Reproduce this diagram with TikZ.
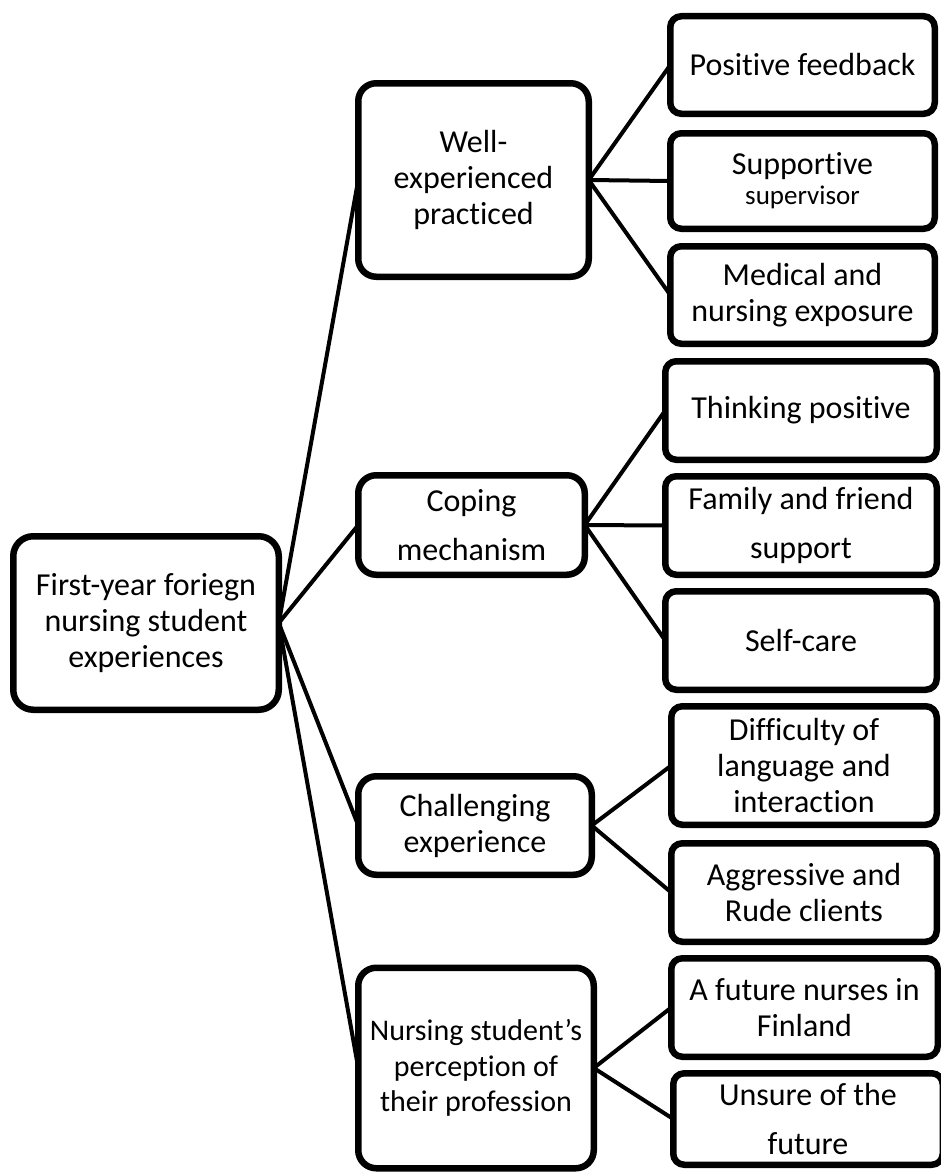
\documentclass[tikz,border=0pt]{standalone}
\usepackage{fontspec}
\setmainfont{Carlito}[RawFeature={-liga;-clig;-calt;-dlig}]
\usetikzlibrary{shadows}
\begin{document}
\begin{tikzpicture}[x=1pt,y=-1pt,
  box/.style={draw, line width=6.5pt, fill=white, align=center, inner sep=0pt, outer sep=0pt,
    drop shadow={shadow xshift=1.5pt, shadow yshift=-2.5pt, opacity=0.12, fill=black}},
  midbox/.style={box, rounded corners=18pt},
  leafbox/.style={box, rounded corners=11pt},
  txt/.style={font=\fontsize{32}{36}\selectfont},
  wide/.style={font=\fontsize{32}{49}\selectfont},
  small/.style={font=\fontsize{30}{35.5}\selectfont},
  link/.style={line width=4pt}]
\useasboundingbox (0,0) rectangle (941,1172);

\node[midbox, rounded corners=20pt, txt, minimum width=265.5pt, minimum height=173.5pt] (root) at (146,623)
  {First-year foriegn\\nursing student\\experiences};

\node[midbox, txt, minimum width=230.5pt, minimum height=193.5pt] (well) at (473.5,180)
  {Well-\\experienced\\practiced};
\node[midbox, wide, minimum width=226.5pt, minimum height=99.5pt] (cope) at (471.5,525)
  {Coping\\mechanism};
\node[midbox, txt, minimum width=233.5pt, minimum height=98.5pt] (chal) at (475,825.5)
  {Challenging\\experience};
\node[midbox, small, minimum width=235.5pt, minimum height=200.5pt] (nurs) at (476,1068)
  {Nursing student’s\\perception of\\their profession};

\node[leafbox, txt, minimum width=264.5pt, minimum height=97.5pt] (pf) at (802.5,65)
  {Positive feedback};
\node[leafbox, font=\fontsize{32}{30}\selectfont, minimum width=264.5pt, minimum height=95.5pt] (ss) at (802.5,181)
  {Supportive\\{\fontsize{27}{30}\selectfont supervisor}};
\node[leafbox, txt, minimum width=264.5pt, minimum height=97.5pt] (med) at (802.5,295)
  {Medical and\\nursing exposure};

\node[leafbox, txt, minimum width=271.5pt, minimum height=98.5pt] (tp) at (801,410.5)
  {Thinking positive};
\node[leafbox, wide, minimum width=271.5pt, minimum height=98.5pt] (fam) at (801,525.5)
  {Family and friend\\support};
\node[leafbox, txt, minimum width=271.5pt, minimum height=98.5pt] (self) at (801,640.5)
  {Self-care};

\node[leafbox, txt, minimum width=265.5pt, minimum height=118.5pt] (diff) at (804,765.5)
  {Difficulty of\\language and\\interaction};
\node[leafbox, txt, minimum width=265.5pt, minimum height=98.5pt] (agg) at (804,892.5)
  {Aggressive and\\Rude clients};

\node[leafbox, txt, minimum width=266.5pt, minimum height=98.5pt] (fut) at (804.5,1007.5)
  {A future nurses in\\Finland};
\node[leafbox, wide, minimum width=269.5pt, minimum height=91.5pt] (uns) at (808,1119)
  {Unsure of the\\future};

\draw[link] (root.east) -- (well.west);
\draw[link] (root.east) -- (cope.west);
\draw[link] (root.east) -- (chal.west);
\draw[link] (root.east) -- (nurs.west);

\draw[link] (well.east) -- (pf.west);
\draw[link] (well.east) -- (ss.west);
\draw[link] (well.east) -- (med.west);

\draw[link] (cope.east) -- (tp.west);
\draw[link] (cope.east) -- (fam.west);
\draw[link] (cope.east) -- (self.west);

\draw[link] (chal.east) -- (diff.west);
\draw[link] (chal.east) -- (agg.west);

\draw[link] (nurs.east) -- (fut.west);
\draw[link] (nurs.east) -- (uns.west);
\end{tikzpicture}
\end{document}
